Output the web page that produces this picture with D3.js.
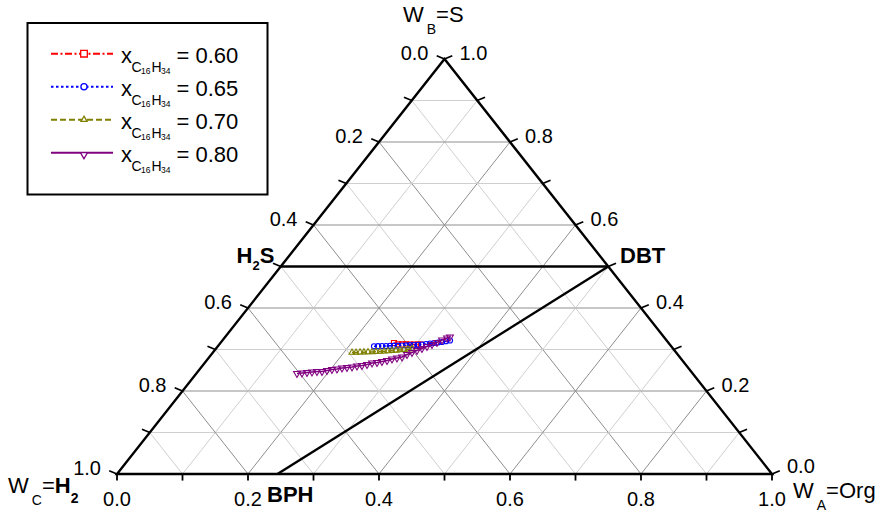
<!DOCTYPE html>
<html>
<head>
<meta charset="utf-8">
<script src="https://cdn.jsdelivr.net/npm/d3@7"></script>
<style>
  body { margin: 0; background: #fff; }
  text { font-family: "Liberation Sans", Arial, sans-serif; fill: #000; }
</style>
</head>
<body>
<svg id="chart" width="889" height="513"></svg>
<script>
// Mole fractions of each run: W_A (Org) and W_B (S); W_C (H2) is the remainder.
const seriesLabels = ["0.60", "0.65", "0.70", "0.80"];

const orgX060 = [0.2651, 0.2727, 0.2790, 0.2851, 0.2913, 0.2974, 0.3035, 0.3082];
const sulX060 = [0.3157, 0.3125, 0.3123, 0.3123, 0.3120, 0.3120, 0.3120, 0.3118];

const orgX065 = [0.2385, 0.2445, 0.2504, 0.2565, 0.2623, 0.2683, 0.2743, 0.2803, 0.2863, 0.2922,
                 0.2980, 0.3039, 0.3096, 0.3151, 0.3206, 0.3261, 0.3316, 0.3371, 0.3424, 0.3476];
const sulX065 = [0.3077, 0.3080, 0.3084, 0.3084, 0.3089, 0.3092, 0.3094, 0.3096, 0.3099, 0.3104,
                 0.3108, 0.3113, 0.3120, 0.3133, 0.3145, 0.3157, 0.3169, 0.3181, 0.3198, 0.3217];

const orgX070 = [0.2124, 0.2185, 0.2244, 0.2303, 0.2362, 0.2423, 0.2481, 0.2539, 0.2598, 0.2655,
                 0.2713, 0.2770, 0.2827, 0.2883, 0.2939, 0.2994];
const sulX070 = [0.2928, 0.2928, 0.2933, 0.2935, 0.2940, 0.2940, 0.2947, 0.2952, 0.2957, 0.2964,
                 0.2971, 0.2978, 0.2988, 0.2998, 0.3007, 0.3019];

const orgX080 = [0.1537, 0.1607, 0.1678, 0.1748, 0.1818, 0.1895, 0.1959, 0.2023, 0.2094, 0.2158,
                 0.2228, 0.2299, 0.2363, 0.2433, 0.2498, 0.2556, 0.2626, 0.2690, 0.2755, 0.2813,
                 0.2877, 0.2942, 0.2988, 0.3040, 0.3092, 0.3144, 0.3197, 0.3249, 0.3301, 0.3347,
                 0.3400, 0.3433];
const sulX080 = [0.2422, 0.2434, 0.2446, 0.2458, 0.2470, 0.2470, 0.2494, 0.2518, 0.2530, 0.2554,
                 0.2566, 0.2578, 0.2602, 0.2614, 0.2639, 0.2675, 0.2687, 0.2711, 0.2735, 0.2771,
                 0.2795, 0.2819, 0.2880, 0.2928, 0.2976, 0.3024, 0.3072, 0.3120, 0.3169, 0.3229,
                 0.3277, 0.3301];

// Tie lines between pure species (W_A, W_B)
const speciesH2S = [0.0, 0.5];
const speciesDBT = [0.5, 0.5];
const speciesBPH = [0.245, 0.0];

// Axis tick values
const tickValues = [0, 0.1, 0.2, 0.3, 0.4, 0.5, 0.6, 0.7, 0.8, 0.9, 1.0];
const tickLabels = ["0.0", "0.2", "0.4", "0.6", "0.8", "1.0"];

const series = [
  { label: seriesLabels[0], a: orgX060, b: sulX060, color: "#ff0000", dash: "7,2.5,2,2.5", symbol: d3.symbolSquare, size: 26, legSize: 44, rot: 0 },
  { label: seriesLabels[1], a: orgX065, b: sulX065, color: "#0000ff", dash: "2.5,2.5",     symbol: d3.symbolCircle, size: 20, legSize: 30, rot: 0 },
  { label: seriesLabels[2], a: orgX070, b: sulX070, color: "#808000", dash: "6,3",         symbol: d3.symbolTriangle, size: 16, legSize: 16, rot: 0 },
  { label: seriesLabels[3], a: orgX080, b: sulX080, color: "#800080", dash: null,          symbol: d3.symbolTriangle, size: 20, legSize: 22, rot: 180 }
];

const svg = d3.select("#chart");

// Ternary frame: W_A runs along the base, W_B rises to the apex
const xA = d3.scaleLinear().domain([0, 1]).range([117, 772]);
const yB = d3.scaleLinear().domain([0, 1]).range([474, 59]);
const proj = (a, b) => [xA(a + b / 2), yB(b)];

// Grid lines at every 0.1, darker on the even tenths
const grid = svg.append("g");
for (let i = 1; i <= 9; i++) {
  const v = i / 10;
  const col = i % 2 === 0 ? "#8e8e8e" : "#cfcfcf";
  const segs = [
    [proj(0, v), proj(1 - v, v)],          // constant W_B
    [proj(v, 0), proj(v, 1 - v)],          // constant W_A
    [proj(1 - v, 0), proj(0, 1 - v)]       // constant W_C
  ];
  segs.forEach(s => grid.append("line")
    .attr("x1", s[0][0]).attr("y1", s[0][1])
    .attr("x2", s[1][0]).attr("y2", s[1][1])
    .attr("stroke", col).attr("stroke-width", 1));
}

// Tie lines
const tie = d3.line().x(d => proj(d[0], d[1])[0]).y(d => proj(d[0], d[1])[1]);
svg.append("path").attr("d", tie([speciesH2S, speciesDBT]))
  .attr("fill", "none").attr("stroke", "#000").attr("stroke-width", 2.4);
svg.append("path").attr("d", tie([speciesDBT, speciesBPH]))
  .attr("fill", "none").attr("stroke", "#000").attr("stroke-width", 2.4);

// Outer triangle
svg.append("path")
  .attr("d", d3.line()([proj(0, 0), proj(1, 0), proj(0, 1)]) + "Z")
  .attr("fill", "none").attr("stroke", "#000").attr("stroke-width", 2.4)
  .attr("stroke-linejoin", "miter");

// Ticks point outward, normal to each side
const L = 9, sq = 415 / (655 * Math.sqrt(3) / 2);
const nBottom = [0, L * sq];
const nLeft = [-L * Math.sqrt(3) / 2, -L * 0.5 * sq];
const nRight = [L * Math.sqrt(3) / 2, -L * 0.5 * sq];
const ticks = svg.append("g").attr("stroke", "#000").attr("stroke-width", 1.8);
const labels = svg.append("g").attr("font-size", 20);

tickValues.forEach((t, i) => {
  // base axis: W_A
  const pb = proj(t, 0);
  ticks.append("line").attr("x1", pb[0]).attr("y1", pb[1])
    .attr("x2", pb[0] + nBottom[0]).attr("y2", pb[1] + nBottom[1]);
  // left axis: W_C, zero at the apex
  const pl = proj(0, 1 - t);
  ticks.append("line").attr("x1", pl[0]).attr("y1", pl[1])
    .attr("x2", pl[0] + nLeft[0]).attr("y2", pl[1] + nLeft[1]);
  // right axis: W_B
  const pr = proj(1 - t, t);
  ticks.append("line").attr("x1", pr[0]).attr("y1", pr[1])
    .attr("x2", pr[0] + nRight[0]).attr("y2", pr[1] + nRight[1]);

  if (i % 2 === 0) {
    const txt = tickLabels[i / 2];
    labels.append("text").attr("x", pb[0]).attr("y", 506)
      .attr("text-anchor", "middle").text(txt);
    labels.append("text").attr("x", pl[0] - 16).attr("y", pl[1] + 1)
      .attr("text-anchor", "end").text(txt);
    labels.append("text").attr("x", pr[0] + 15).attr("y", pr[1] + (t === 0 ? -1 : 1))
      .attr("text-anchor", "start").text(txt);
  }
});

// Data series
const line = d3.line().x(d => proj(d[0], d[1])[0]).y(d => proj(d[0], d[1])[1]);
series.forEach(s => {
  const pts = s.a.map((a, i) => [a, s.b[i]]);
  const g = svg.append("g");
  g.append("path").attr("d", line(pts))
    .attr("fill", "none").attr("stroke", s.color).attr("stroke-width", 1.5)
    .attr("stroke-dasharray", s.dash);
  g.selectAll("path.m").data(pts).join("path").attr("class", "m")
    .attr("d", d3.symbol().type(s.symbol).size(s.size))
    .attr("transform", d => {
      const p = proj(d[0], d[1]);
      return `translate(${p[0]},${p[1]}) rotate(${s.rot})`;
    })
    .attr("fill", "none").attr("stroke", s.color).attr("stroke-width", 1.1);
});

// Species labels
const sp = svg.append("g").attr("font-weight", "bold").attr("font-size", 22);
const tH2S = sp.append("text").attr("x", 236.5).attr("y", 263);
tH2S.append("tspan").text("H");
tH2S.append("tspan").attr("font-size", 13).attr("dy", 7).text("2");
tH2S.append("tspan").attr("dy", -7).text("S");
sp.append("text").attr("x", 620).attr("y", 263).text("DBT");
sp.append("text").attr("x", 267).attr("y", 502).text("BPH");

// Axis titles
const titles = svg.append("g");
function axisTitle(x, y, main, sub, size) {
  const t = titles.append("text").attr("x", x).attr("y", y).attr("font-size", size);
  t.append("tspan").text(main);
  t.append("tspan").attr("font-size", 14).attr("dy", 12).attr("dx", 3).text(sub);
  return t;
}
const t1 = axisTitle(403, 22, "W", "B", 22);
t1.append("tspan").attr("dy", -12).text("=S");
const t2 = axisTitle(8, 493, "W", "C", 22);
t2.append("tspan").attr("dy", -12).text("=");
t2.append("tspan").attr("font-weight", "bold").text("H");
t2.append("tspan").attr("font-weight", "bold").attr("font-size", 14).attr("dy", 10).text("2");
const t3 = axisTitle(793, 498, "W", "A", 22);
t3.append("tspan").attr("dy", -12).text("=Org");

// Legend
const leg = svg.append("g");
leg.append("rect").attr("x", 27.5).attr("y", 23).attr("width", 240).attr("height", 171.5)
  .attr("fill", "#fff").attr("stroke", "#000").attr("stroke-width", 2);
series.forEach((s, i) => {
  const base = 62.7 + 33 * i;
  const ly = base - 9;
  leg.append("line").attr("x1", 51).attr("x2", 113).attr("y1", ly).attr("y2", ly)
    .attr("stroke", s.color).attr("stroke-width", 2).attr("stroke-dasharray", s.dash);
  leg.append("path").attr("d", d3.symbol().type(s.symbol).size(s.legSize))
    .attr("transform", `translate(84,${ly + (s.rot ? 2 : 0)}) rotate(${s.rot})`)
    .attr("fill", "#fff").attr("stroke", s.color).attr("stroke-width", 1.3);
  const t = leg.append("text");
  t.append("tspan").attr("x", 121).attr("y", base).attr("font-size", 22).text("x");
  t.append("tspan").attr("x", 131.5).attr("y", base + 9).attr("font-size", 14).text("C");
  t.append("tspan").attr("x", 141).attr("y", base + 11.5).attr("font-size", 8.5).text("16");
  t.append("tspan").attr("x", 151.5).attr("y", base + 9).attr("font-size", 14).text("H");
  t.append("tspan").attr("x", 161).attr("y", base + 11.5).attr("font-size", 8.5).text("34");
  t.append("tspan").attr("x", 176.5).attr("y", base).attr("font-size", 22).text("= " + s.label);
});
</script>
</body>
</html>
